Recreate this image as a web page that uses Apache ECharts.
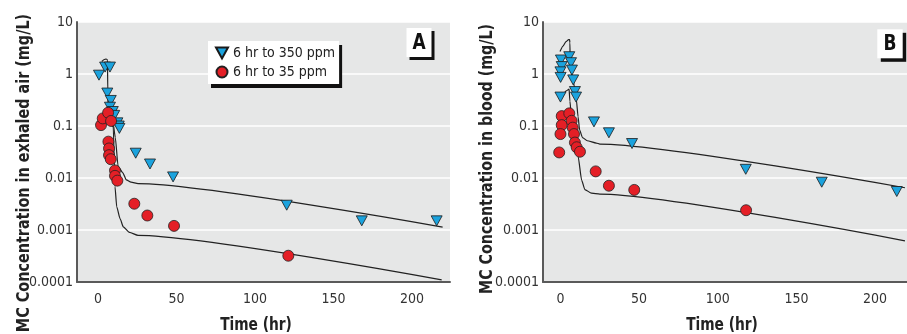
<!DOCTYPE html>
<html>
<head>
<meta charset="utf-8">
<script src="https://cdn.jsdelivr.net/npm/echarts@6/dist/echarts.min.js"></script>
<style>
  html, body { margin: 0; background: #fff; }
  #chart { width: 907px; height: 334px; }
</style>
</head>
<body>
<div id="chart"></div>
<script>
const FONT = "'DejaVu Sans Condensed', 'Liberation Sans', sans-serif";

const seriesNames = ["6 hr to 350 ppm", "6 hr to 35 ppm"];
const yTickLabels = ["0.0001", "0.001", "0.01", "0.1", "1", "10"];
const xTickValues = [0, 50, 100, 150, 200];

// panel A: exhaled air, observed [time (hr), mg/L]
const airHigh = [
	[0.6, 0.95], [4.5, 1.36], [7.6, 1.36], [5.9, 0.43], [8.1, 0.31], [7.6, 0.23],
	[9.4, 0.19], [10.3, 0.16], [12.3, 0.115], [13.2, 0.1], [13.6, 0.09],
	[24, 0.03], [33.1, 0.0186], [47.8, 0.0105], [120.2, 0.003], [168, 0.0015], [215.7, 0.0015],
];
const airLow = [
	[1.9, 0.104], [3, 0.14], [6.4, 0.18], [8.3, 0.125], [6.6, 0.05], [7, 0.037],
	[7, 0.0275], [8.1, 0.023], [10.8, 0.014], [10.8, 0.011], [12.3, 0.0089],
	[23.1, 0.0032], [31.4, 0.0019], [48.4, 0.0012], [121.2, 0.00032],
];
// panel A: model curves
const airHighModel = [
	[2.4, 1.74], [4, 1.9], [5, 1.94], [6, 1.9], [6.2, 0.5], [6.4, 0.2], [9.5, 0.12],
	[11, 0.06], [12.8, 0.0166], [15.8, 0.0126], [18, 0.0092], [21, 0.0083],
	[25.5, 0.0078], [219.5, 0.00114],
];
const airLowModel = [
	[2, 0.12], [4, 0.15], [6, 0.16], [6.3, 0.12], [9.7, 0.096], [10.8, 0.0068],
	[11.9, 0.0028], [14, 0.00166], [16.1, 0.00115], [20, 0.0009], [25.5, 0.00079],
	[218.9, 0.00011],
];

// panel B: blood, observed
const bloodHigh = [
	[0.3, 1.86], [0.8, 1.39], [0, 1.1], [0.1, 0.86], [0, 0.36], [5.6, 2.15],
	[6.7, 1.65], [7.3, 1.19], [8.1, 0.77], [9.2, 0.46], [9.9, 0.36],
	[21.3, 0.12], [30.8, 0.074], [45.5, 0.046], [117.8, 0.0147], [166.1, 0.0083], [213.8, 0.0055],
];
const bloodLow = [
	[0.8, 0.155], [0.8, 0.104], [0, 0.07], [-0.8, 0.031], [5.6, 0.175], [7.1, 0.126],
	[7.8, 0.093], [8.6, 0.07], [9.2, 0.048], [10.3, 0.039], [12.4, 0.032],
	[22.4, 0.0134], [30.8, 0.0071], [46.9, 0.0059], [118, 0.0024],
];
// panel B: model curves
const bloodHighModel = [
	[-0.3, 2.7], [1.5, 3.4], [3.5, 4.2], [5.2, 4.6], [5.8, 4.6], [6, 4.0], [6.2, 1.5],
	[7.5, 0.9], [9, 0.55], [10.1, 0.32], [11.2, 0.15], [12.2, 0.083], [14, 0.06],
	[17, 0.052], [22.8, 0.047], [25, 0.045], [219, 0.0065],
];
const bloodLowModel = [
	[1.5, 0.38], [3.5, 0.47], [5.5, 0.51], [5.8, 0.5], [6, 0.3], [7, 0.15], [9, 0.08],
	[10.5, 0.045], [11.2, 0.026], [13.5, 0.009], [15.5, 0.006], [19.7, 0.0051],
	[25, 0.0049], [219, 0.00062],
];

const chart = echarts.init(document.getElementById("chart"));

const xAxis = (gridIndex, min, max) => ({
	type: "value",
	gridIndex,
	min,
	max,
	axisLine: { onZero: false, lineStyle: { color: "#5a5a5a", width: 2 } },
	axisTick: { show: false },
	splitLine: { show: false },
	axisLabel: {
		customValues: xTickValues,
		margin: 10,
		color: "#333",
		fontSize: 14,
		fontFamily: FONT,
	},
});

const yAxis = (gridIndex) => ({
	type: "log",
	logBase: 10,
	gridIndex,
	min: 0.0001,
	max: 10,
	axisLine: { show: true, onZero: false, lineStyle: { color: "#5a5a5a", width: 2 } },
	axisTick: { show: false },
	splitLine: { lineStyle: { color: "#fff", width: 1.5 } },
	axisLabel: {
		margin: 4,
		color: "#333",
		fontSize: 14,
		fontFamily: FONT,
		formatter: (v) => yTickLabels[Math.round(Math.log10(v)) + 4],
	},
});

const model = (data, idx) => ({
	type: "line",
	data,
	xAxisIndex: idx,
	yAxisIndex: idx,
	showSymbol: false,
	silent: true,
	smooth: 0.2,
	smoothMonotone: "x",
	lineStyle: { color: "#222", width: 1.2 },
	z: 1,
});

const tri = (data, idx) => ({
	name: seriesNames[0],
	type: "scatter",
	data,
	xAxisIndex: idx,
	yAxisIndex: idx,
	symbol: "triangle",
	symbolRotate: 180,
	symbolSize: [11, 10],
	itemStyle: { color: "#1ba3de", borderColor: "#1a1a1a", borderWidth: 0.8, opacity: 1 },
	z: 2,
});

const dot = (data, idx) => ({
	name: seriesNames[1],
	type: "scatter",
	data,
	xAxisIndex: idx,
	yAxisIndex: idx,
	symbol: "circle",
	symbolSize: 11,
	itemStyle: { color: "#e41f26", borderColor: "#222", borderWidth: 0.8, opacity: 1 },
	z: 3,
});

const titleFont = "bold 17px " + FONT;

const title = (text, x, y, rotated, scale) => ({
	type: "text",
	x,
	y,
	rotation: rotated ? Math.PI / 2 : 0,
	scaleX: scale,
	style: { text, font: titleFont, fill: "#222", align: "center", verticalAlign: "middle" },
});

const panelTag = (x, y, w, h, off, label) => [
	{ type: "rect", shape: { x: x + off, y: y + off, width: w, height: h }, style: { fill: "#111" }, z: 10 },
	{ type: "rect", shape: { x, y, width: w, height: h }, style: { fill: "#fff" }, z: 11 },
	{
		type: "text", x: x + w / 2, y: y + h / 2 + 1, z: 12, scaleX: 0.9,
		style: { text: label, font: "bold 21px " + FONT, fill: "#111", align: "center", verticalAlign: "middle" },
	},
];

chart.setOption({
	animation: false,
	grid: [
		{ left: 77, top: 22, width: 373, height: 260, show: true, backgroundColor: "#e6e7e7", borderWidth: 0 },
		{ left: 543, top: 22, width: 364, height: 260, show: true, backgroundColor: "#e6e7e7", borderWidth: 0 },
	],
	xAxis: [xAxis(0, -13.4, 224.2), xAxis(1, -11.1, 220.3)],
	yAxis: [yAxis(0), yAxis(1)],
	legend: {
		data: [
			{ name: seriesNames[0], icon: "path://M0,0L12,0L6,11Z" },
			{ name: seriesNames[1], icon: "circle" },
		],
		orient: "vertical",
		left: 208,
		top: 41,
		padding: [5, 4, 5, 7],
		itemWidth: 12,
		itemHeight: 11,
		itemGap: 5,
		backgroundColor: "#fff",
		shadowColor: "#111",
		shadowBlur: 0,
		shadowOffsetX: 3,
		shadowOffsetY: 4,
		textStyle: { fontSize: 14, color: "#222", fontFamily: FONT },
		selectedMode: false,
	},
	graphic: [
		title("MC Concentration in exhaled air (mg/L)", 25, 173, true, 0.94),
		title("MC Concentration in blood (mg/L)", 488, 159, true, 0.93),
		title("Time (hr)", 256, 326, false, 0.9),
		title("Time (hr)", 722, 326, false, 0.9),
		...panelTag(406.5, 28, 25, 29, 3, "A"),
		...panelTag(877.3, 29.3, 25.4, 29, 3.5, "B"),
	],
	series: [
		model(airHighModel, 0),
		model(airLowModel, 0),
		tri(airHigh, 0),
		dot(airLow, 0),
		model(bloodHighModel, 1),
		model(bloodLowModel, 1),
		tri(bloodHigh, 1),
		dot(bloodLow, 1),
	],
});
</script>
</body>
</html>
